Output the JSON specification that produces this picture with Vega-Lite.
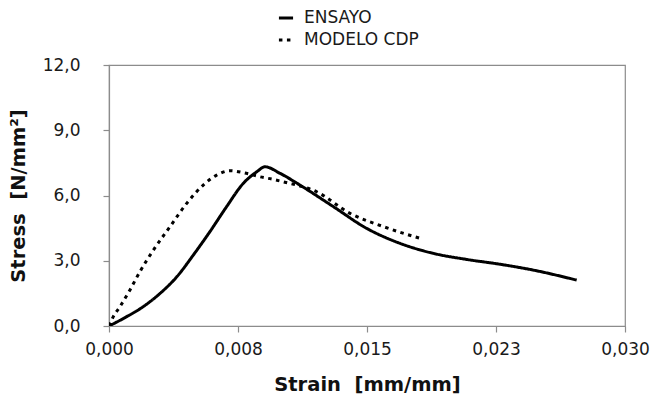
{
  "$schema": "https://vega.github.io/schema/vega-lite/v6.json",
  "autosize": {"type": "none"},
  "padding": {"left": 109, "top": 65, "right": 30, "bottom": 72},
  "width": 516,
  "height": 261,
  "background": "white",
  "config": {
    "font": "DejaVu Sans",
    "view": {"stroke": "#8c8c8c", "strokeWidth": 1.2},
    "axis": {"grid": false, "domainColor": "#8c8c8c", "tickColor": "#8c8c8c", "domainWidth": 1.2, "tickWidth": 1.2, "tickSize": 6, "labelColor": "#1a1a1a", "labelFontSize": 17, "labelFont": "DejaVu Sans", "titleFont": "DejaVu Sans", "titleFontSize": 19.5, "titleFontWeight": "bold", "titleColor": "#111", "labelFlush": false}
  },
  "data": {
    "values": [
      {"series": "ENSAYO", "ord": 0, "strain": 0.0, "stress": 0.0},
      {"series": "ENSAYO", "ord": 1, "strain": 0.00103, "stress": 0.43},
      {"series": "ENSAYO", "ord": 2, "strain": 0.00199, "stress": 0.89},
      {"series": "ENSAYO", "ord": 3, "strain": 0.00297, "stress": 1.5},
      {"series": "ENSAYO", "ord": 4, "strain": 0.00394, "stress": 2.26},
      {"series": "ENSAYO", "ord": 5, "strain": 0.0049, "stress": 3.26},
      {"series": "ENSAYO", "ord": 6, "strain": 0.00587, "stress": 4.34},
      {"series": "ENSAYO", "ord": 7, "strain": 0.00684, "stress": 5.49},
      {"series": "ENSAYO", "ord": 8, "strain": 0.00781, "stress": 6.56},
      {"series": "ENSAYO", "ord": 9, "strain": 0.00859, "stress": 7.09},
      {"series": "ENSAYO", "ord": 10, "strain": 0.00907, "stress": 7.32},
      {"series": "ENSAYO", "ord": 11, "strain": 0.00994, "stress": 7.02},
      {"series": "ENSAYO", "ord": 12, "strain": 0.0111, "stress": 6.48},
      {"series": "ENSAYO", "ord": 13, "strain": 0.01304, "stress": 5.49},
      {"series": "ENSAYO", "ord": 14, "strain": 0.01498, "stress": 4.49},
      {"series": "ENSAYO", "ord": 15, "strain": 0.01692, "stress": 3.8},
      {"series": "ENSAYO", "ord": 16, "strain": 0.01886, "stress": 3.34},
      {"series": "ENSAYO", "ord": 17, "strain": 0.0208, "stress": 3.06},
      {"series": "ENSAYO", "ord": 18, "strain": 0.02273, "stress": 2.84},
      {"series": "ENSAYO", "ord": 19, "strain": 0.02467, "stress": 2.57},
      {"series": "ENSAYO", "ord": 20, "strain": 0.02719, "stress": 2.11},
      {"series": "MODELO CDP", "ord": 0, "strain": 0.0, "stress": 0.0},
      {"series": "MODELO CDP", "ord": 1, "strain": 0.00025, "stress": 0.43},
      {"series": "MODELO CDP", "ord": 2, "strain": 0.00064, "stress": 0.89},
      {"series": "MODELO CDP", "ord": 3, "strain": 0.00122, "stress": 1.66},
      {"series": "MODELO CDP", "ord": 4, "strain": 0.0018, "stress": 2.5},
      {"series": "MODELO CDP", "ord": 5, "strain": 0.00258, "stress": 3.49},
      {"series": "MODELO CDP", "ord": 6, "strain": 0.00355, "stress": 4.57},
      {"series": "MODELO CDP", "ord": 7, "strain": 0.00452, "stress": 5.64},
      {"series": "MODELO CDP", "ord": 8, "strain": 0.00548, "stress": 6.48},
      {"series": "MODELO CDP", "ord": 9, "strain": 0.00626, "stress": 6.94},
      {"series": "MODELO CDP", "ord": 10, "strain": 0.00703, "stress": 7.14},
      {"series": "MODELO CDP", "ord": 11, "strain": 0.00781, "stress": 7.05},
      {"series": "MODELO CDP", "ord": 12, "strain": 0.00878, "stress": 6.86},
      {"series": "MODELO CDP", "ord": 13, "strain": 0.00955, "stress": 6.74},
      {"series": "MODELO CDP", "ord": 14, "strain": 0.01013, "stress": 6.63},
      {"series": "MODELO CDP", "ord": 15, "strain": 0.01208, "stress": 6.17},
      {"series": "MODELO CDP", "ord": 16, "strain": 0.01401, "stress": 5.18},
      {"series": "MODELO CDP", "ord": 17, "strain": 0.01595, "stress": 4.57},
      {"series": "MODELO CDP", "ord": 18, "strain": 0.01827, "stress": 3.99}
    ]
  },
  "mark": {"type": "line", "color": "black", "strokeWidth": 3, "interpolate": "monotone", "clip": true},
  "encoding": {
    "x": {
      "field": "strain", "type": "quantitative",
      "scale": {"domain": [0, 0.03], "nice": false, "zero": false},
      "axis": {"values": [0, 0.0075, 0.015, 0.0225, 0.03], "labelExpr": "replace(format(datum.value + 0.000001, '.3f'), '.', ',')", "labelPadding": 9, "title": "Strain\u00a0\u00a0[mm/mm]", "titleX": 258, "titleY": 58, "titleBaseline": "middle", "titleAlign": "center"}
    },
    "y": {
      "field": "stress", "type": "quantitative",
      "scale": {"domain": [0, 12], "nice": false},
      "axis": {"values": [0, 3, 6, 9, 12], "labelExpr": "replace(format(datum.value, '.1f'), '.', ',')", "labelPadding": 23, "title": "Stress\u00a0\u00a0[N/mm²]", "titleX": -91, "titleY": 130.5, "titleAngle": -90, "titleBaseline": "middle", "titleAlign": "center"}
    },
    "strokeDash": {
      "field": "series", "type": "nominal",
      "scale": {"domain": ["ENSAYO", "MODELO CDP"], "range": [[1, 0], [3.5, 4.5]]},
      "legend": {"title": null, "orient": "none", "legendX": 168, "legendY": -56, "direction": "vertical", "padding": 0, "symbolType": "stroke", "symbolSize": 200, "symbolStrokeWidth": 3, "symbolStrokeColor": "black", "labelFontSize": 17, "labelColor": "#1a1a1a", "labelOffset": 9, "rowPadding": 5}
    },
    "order": {"field": "ord", "type": "quantitative"}
  }
}
